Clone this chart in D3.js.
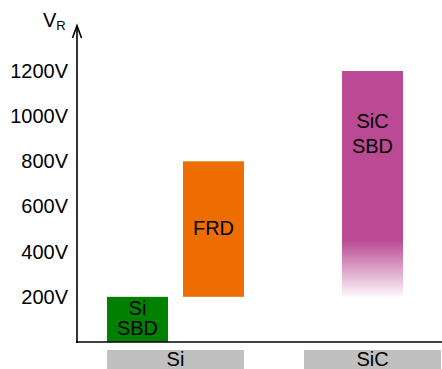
<!DOCTYPE html>
<html><head><meta charset="utf-8">
<script src="https://cdn.jsdelivr.net/npm/d3@7/dist/d3.min.js"></script>
<style>body{margin:0;background:#fff}svg{display:block}text{font-family:"Liberation Sans",Arial,sans-serif}</style>
</head><body>
<script>
// Data
const groups = ["Si", "SiC"];
const devices = ["Si SBD", "FRD", "SiC SBD"];
const deviceGroup = ["Si", "Si", "SiC"];
const deviceLabels = [["Si", "SBD"], ["FRD"], ["SiC", "SBD"]];
const vMin = [0, 200, 200];
const vMax = [200, 800, 1200];
const deviceColors = ["#008000", "#ED6D00", "#BA4A93"];
const fadeBottom = [false, false, true];
const yTicks = [200, 400, 600, 800, 1000, 1200];
const tickLabels = ["200V", "400V", "600V", "800V", "1000V", "1200V"];

const W = 442, H = 369;
const svg = d3.select("body").append("svg").attr("width", W).attr("height", H);

const y = d3.scaleLinear().domain([0, 1200]).range([342, 71]);
const xG = d3.scaleBand().domain(groups).range([107, 441]).paddingInner(60 / 197).paddingOuter(0);
const xIn = d3.scaleBand().domain([0, 1]).range([0, xG.bandwidth()]).paddingInner(15 / 76).paddingOuter(0);
const bw = xIn.bandwidth();

function barX(i) {
  const g = deviceGroup[i];
  const members = devices.filter((d, j) => deviceGroup[j] === g);
  const k = members.indexOf(devices[i]);
  if (members.length === 1) return xG(g) + (xG.bandwidth() - bw) / 2;
  return xG(g) + xIn(k);
}

const defs = svg.append("defs");
devices.forEach((d, i) => {
  if (!fadeBottom[i]) return;
  const lg = defs.append("linearGradient").attr("id", "fade" + i)
    .attr("x1", 0).attr("y1", 0).attr("x2", 0).attr("y2", 1);
  lg.append("stop").attr("offset", 0).attr("stop-color", deviceColors[i]).attr("stop-opacity", 1);
  lg.append("stop").attr("offset", 0.75).attr("stop-color", deviceColors[i]).attr("stop-opacity", 1);
  lg.append("stop").attr("offset", 1).attr("stop-color", deviceColors[i]).attr("stop-opacity", 0.04);
});

// Bars
const bars = svg.append("g").selectAll("g").data(devices).join("g");
bars.append("rect")
  .attr("x", (d, i) => barX(i))
  .attr("y", (d, i) => y(vMax[i]))
  .attr("width", bw)
  .attr("height", (d, i) => y(vMin[i]) - y(vMax[i]))
  .attr("fill", (d, i) => fadeBottom[i] ? `url(#fade${i})` : deviceColors[i]);

// Bar labels
bars.each(function (d, i) {
  const lines = deviceLabels[i];
  const cx = barX(i) + bw / 2;
  let cy = (y(vMin[i]) + y(vMax[i])) / 2;
  let lh = 20;
  if (fadeBottom[i]) { cy = y(vMax[i]) + 63.5; lh = 25; }
  const t = d3.select(this).append("text").attr("text-anchor", "middle")
    .attr("font-size", 20).attr("fill", "#000");
  lines.forEach((l, k) => {
    t.append("tspan").attr("x", cx)
      .attr("y", cy + 6 + (k - (lines.length - 1) / 2) * lh).text(l);
  });
});

// Y axis labels
const yAxis = d3.axisLeft(y).tickValues(yTicks).tickSize(0).tickPadding(9)
  .tickFormat((d, i) => tickLabels[i]);
const ga = svg.append("g").attr("transform", "translate(77,0)").call(yAxis);
ga.select(".domain").remove();
ga.selectAll("text").attr("font-size", 20).attr("fill", "#000")
  .attr("font-family", '"Liberation Sans",Arial,sans-serif');

// Axes lines
svg.append("line").attr("x1", 77).attr("x2", 77).attr("y1", 343).attr("y2", 26)
  .attr("stroke", "#000").attr("stroke-width", 1.6);
svg.append("line").attr("x1", 76).attr("x2", W).attr("y1", 342).attr("y2", 342)
  .attr("stroke", "#000").attr("stroke-width", 1.6);
svg.append("path").attr("d", "M72.5,38 L77,25.5 L81.5,38")
  .attr("fill", "none").attr("stroke", "#000").attr("stroke-width", 1.6);

// V_R label
const vr = svg.append("text").attr("x", 43).attr("y", 27).attr("font-size", 20).attr("fill", "#000");
vr.append("tspan").text("V");
vr.append("tspan").attr("font-size", 13).attr("dy", 3).text("R");

// Group boxes
const gb = svg.append("g").selectAll("g").data(groups).join("g");
gb.append("rect").attr("x", d => xG(d)).attr("y", 350)
  .attr("width", xG.bandwidth()).attr("height", 20).attr("fill", "#C0C0C0");
gb.append("text").attr("x", d => xG(d) + xG.bandwidth() / 2).attr("y", 366)
  .attr("text-anchor", "middle").attr("font-size", 20).attr("fill", "#000").text(d => d);
</script>
</body></html>
